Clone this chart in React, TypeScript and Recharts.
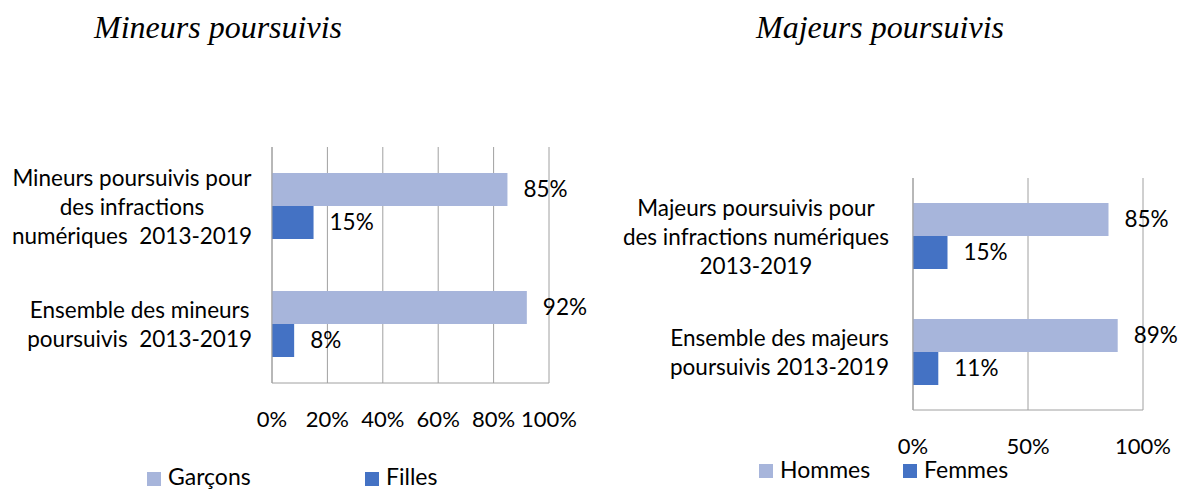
import React from 'react';
import { BarChart, Bar, XAxis, YAxis, CartesianGrid, LabelList } from 'recharts';

// Mineurs
const minorCategories = [
  'Mineurs poursuivis pour\ndes infractions\nnumériques  2013-2019',
  'Ensemble des mineurs\npoursuivis  2013-2019',
];
const garcons = [0.85, 0.92];
const filles = [0.15, 0.08];
const minorTicks = [0, 0.2, 0.4, 0.6, 0.8, 1];

// Majeurs
const adultCategories = [
  'Majeurs poursuivis pour\ndes infractions numériques\n2013-2019',
  'Ensemble des majeurs\npoursuivis 2013-2019',
];
const hommes = [0.85, 0.89];
const femmes = [0.15, 0.11];
const adultTicks = [0, 0.5, 1];

const LIGHT = '#A7B5DB';
const DARK = '#4472C4';
const GRID = '#a0a0a0';
const FONT = 'Lato, Carlito, Calibri, sans-serif';

const pct = (v: number) => `${Math.round(v * 100)}%`;

function CategoryTick(props: any) {
  const { x, y, payload } = props;
  const lines = String(payload.value).split('\n');
  const lh = 29;
  const h = lines.length * lh;
  const w = 320;
  return (
    <foreignObject x={x - w} y={y - h / 2} width={w} height={h}>
      <div style={{ display: 'flex', justifyContent: 'flex-end' }}>
        <div
          style={{
            textAlign: 'center',
            whiteSpace: 'pre',
            fontFamily: FONT,
            fontSize: 22.5,
            lineHeight: `${lh}px`,
            color: '#000',
          }}
        >
          {lines.join('\n')}
        </div>
      </div>
    </foreignObject>
  );
}

function Panel(props: {
  data: any[];
  ticks: number[];
  width: number;
  left: number;
  yWidth: number;
  margin: any;
  yTickMargin: number;
  keys: string[];
}) {
  const { data, ticks, width, left, yWidth, margin, yTickMargin, keys } = props;
  return (
    <div style={{ position: 'absolute', left, top: 0 }}>
      <BarChart
        width={width}
        height={490}
        data={data}
        layout="vertical"
        margin={margin}
        barGap={0}
      >
        <CartesianGrid horizontal={false} stroke={GRID} />
        <XAxis
          type="number"
          domain={[0, 1]}
          ticks={ticks}
          tickFormatter={pct}
          height={30}
          tickLine={false}
          tickMargin={22}
          axisLine={{ stroke: GRID }}
          tick={{ fill: '#000', fontSize: 22, fontFamily: FONT }}
          interval={0}
        />
        <YAxis
          type="category"
          dataKey="name"
          width={yWidth}
          tickLine={false}
          tickMargin={yTickMargin}
          axisLine={{ stroke: GRID }}
          tick={<CategoryTick />}
          interval={0}
        />
        <Bar dataKey={keys[0]} fill={LIGHT} barSize={33} isAnimationActive={false}>
          <LabelList
            dataKey={keys[0]}
            position="right"
            offset={16}
            formatter={(v: any) => pct(Number(v))}
            style={{ fill: '#000', fontSize: 22.5, fontFamily: FONT }}
          />
        </Bar>
        <Bar dataKey={keys[1]} fill={DARK} barSize={33} isAnimationActive={false}>
          <LabelList
            dataKey={keys[1]}
            position="right"
            offset={16}
            formatter={(v: any) => pct(Number(v))}
            style={{ fill: '#000', fontSize: 22.5, fontFamily: FONT }}
          />
        </Bar>
      </BarChart>
    </div>
  );
}

const minorData = minorCategories.map((name, i) => ({ name, garcons: garcons[i], filles: filles[i] }));
const adultData = adultCategories.map((name, i) => ({ name, hommes: hommes[i], femmes: femmes[i] }));

const minorLegend = [
  { label: 'Garçons', color: LIGHT, x: 147 },
  { label: 'Filles', color: DARK, x: 365 },
];
const adultLegend = [
  { label: 'Hommes', color: LIGHT, x: 759 },
  { label: 'Femmes', color: DARK, x: 903 },
];

export default function App() {
  return (
    <div style={{ position: 'absolute', left: 0, top: 0, width: 1181, height: 490, background: '#fff' }}>
      <Panel
        data={minorData}
        ticks={minorTicks}
        width={590}
        left={0}
        yWidth={272}
        margin={{ top: 147, right: 41, bottom: 77, left: 0 }}
        yTickMargin={14}
        keys={['garcons', 'filles']}
      />
      <Panel
        data={adultData}
        ticks={adultTicks}
        width={591}
        left={590}
        yWidth={323}
        margin={{ top: 178, right: 38, bottom: 50, left: 0 }}
        yTickMargin={18}
        keys={['hommes', 'femmes']}
      />
      <svg
        width={1181}
        height={490}
        style={{ position: 'absolute', left: 0, top: 0, pointerEvents: 'none' }}
      >
        <text x={94} y={38} fontFamily="'Liberation Serif', 'Times New Roman', serif" fontStyle="italic" fontSize={32}>
          Mineurs poursuivis
        </text>
        <text x={756} y={38} fontFamily="'Liberation Serif', 'Times New Roman', serif" fontStyle="italic" fontSize={32}>
          Majeurs poursuivis
        </text>
        {minorLegend.map((it) => (
          <g key={it.label}>
            <rect x={it.x} y={472} width={14} height={14} fill={it.color} />
            <text x={it.x + 21} y={485} fontFamily={FONT} fontSize={23} fill="#000">
              {it.label}
            </text>
          </g>
        ))}
        {adultLegend.map((it) => (
          <g key={it.label}>
            <rect x={it.x} y={464} width={14} height={14} fill={it.color} />
            <text x={it.x + 21} y={478} fontFamily={FONT} fontSize={23} fill="#000">
              {it.label}
            </text>
          </g>
        ))}
      </svg>
    </div>
  );
}
